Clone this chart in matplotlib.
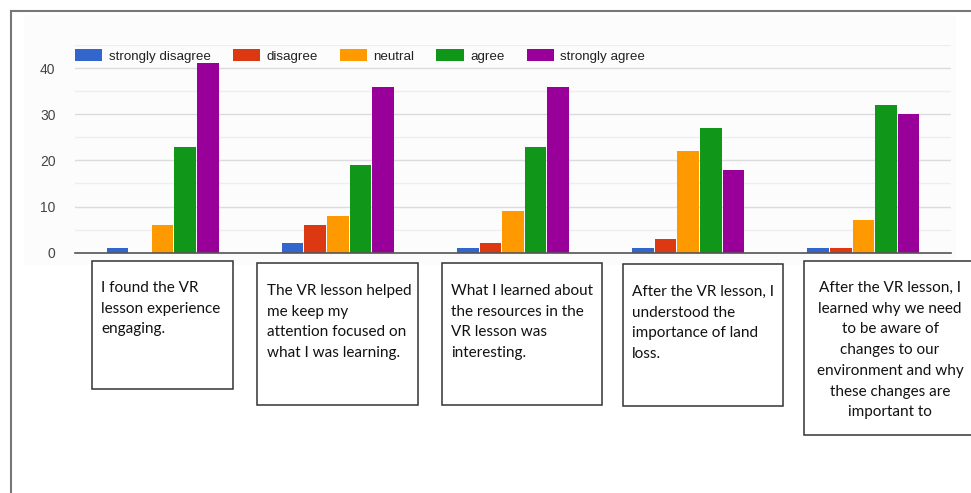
import matplotlib
matplotlib.use("Agg")
from matplotlib import pyplot as plt
from matplotlib.patches import Rectangle, Patch
from matplotlib.lines import Line2D
import numpy as np

# survey answers, one list per response level
levels = ["strongly disagree", "disagree", "neutral", "agree", "strongly agree"]
colors = ["#3366cc", "#dc3912", "#ff9900", "#109618", "#990099"]

strongly_disagree = [1, 2, 1, 1, 1]
disagree = [0, 6, 2, 3, 1]
neutral = [6, 8, 9, 22, 7]
agree = [23, 19, 23, 27, 32]
strongly_agree = [41, 36, 36, 18, 30]

questions = [
    "I found the VR\nlesson experience\nengaging.",
    "The VR lesson helped\nme keep my\nattention focused on\nwhat I was learning.",
    "What I learned about\nthe resources in the\nVR lesson was\ninteresting.",
    "After the VR lesson, I\nunderstood the\nimportance of land\nloss.",
    "After the VR lesson, I\nlearned why we need\nto be aware of\nchanges to our\nenvironment and why\nthese changes are\nimportant to",
]

W, H = 971, 493
fig = plt.figure(figsize=(W / 100, H / 100), dpi=100)

def px(x, y):
    # pixel position (from top left) -> figure fraction
    return x / W, 1 - y / H

# faint chart background
fig.patches.append(Rectangle(px(24, 265), (956 - 24) / W, (265 - 15) / H,
                             transform=fig.transFigure, facecolor="#fcfcfc",
                             edgecolor="none", zorder=-1))

left, top = px(75, 45)
right, bottom = px(951, 252.7)
ax = fig.add_axes([left, bottom, right - left, top - bottom])
ax.set_facecolor("none")

series = [strongly_disagree, disagree, neutral, agree, strongly_agree]
x = np.arange(len(questions))
step = 0.129
for i, vals in enumerate(series):
    ax.bar(x + (i - 2) * step, vals, width=0.123, color=colors[i], zorder=3)

ax.set_xlim(-0.5, 4.5)
ax.set_ylim(0, 45)
ax.set_yticks([0, 10, 20, 30, 40])
ax.set_yticks([5, 15, 25, 35, 45], minor=True)
ax.set_xticks([])
ax.grid(axis="y", which="major", color="#dcdcdc", lw=1.0, zorder=0)
ax.grid(axis="y", which="minor", color="#eeeeee", lw=1.0, zorder=0)
ax.tick_params(axis="y", which="both", length=0, pad=14, labelsize=10,
               labelcolor="#444444")
for lab in ax.get_yticklabels():
    lab.set_fontfamily("Liberation Sans")
for s in ["top", "right", "left"]:
    ax.spines[s].set_visible(False)
ax.spines["bottom"].set_color("#555555")
ax.spines["bottom"].set_linewidth(1.2)
ax.spines["bottom"].set_zorder(4)

handles = [Patch(facecolor=c, edgecolor="none") for c in colors]
leg = ax.legend(handles, levels, ncol=5, loc="center left",
                bbox_to_anchor=(0, 0.947), frameon=False, borderpad=0,
                borderaxespad=0, handlelength=2.05, handleheight=0.95,
                handletextpad=0.48, columnspacing=1.65,
                prop={"family": "Liberation Sans", "size": 9.6})
for t in leg.get_texts():
    t.set_color("#222222")

# question boxes under the groups
boxes = [(92, 261, 233, 389), (257, 263, 418, 405), (442, 263, 602, 405),
         (623, 264, 783, 406), (804, 261, 975, 435)]
text_pos = [(101, 281, "left"), (267, 284, "left"), (451, 284, "left"),
            (632, 285, "left"), (890, 281, "center")]
for (x0, y0, x1, y1), (tx, ty, ha), q in zip(boxes, text_pos, questions):
    fig.patches.append(Rectangle(px(x0, y1), (x1 - x0) / W, (y1 - y0) / H,
                                 transform=fig.transFigure, facecolor="white",
                                 edgecolor="#333333", lw=1.1, zorder=2))
    fig.text(*px(tx, ty), q, ha=ha, va="top", fontsize=11, family="Lato",
             color="#111111", linespacing=1.61, multialignment=ha, zorder=3)

# outer frame of the screenshot
fig.add_artist(Line2D([11 / W, 1], [1 - 11 / H, 1 - 11 / H], color="#777777",
                      lw=1.5, transform=fig.transFigure))
fig.add_artist(Line2D([11 / W, 11 / W], [0, 1 - 11 / H], color="#777777",
                      lw=1.5, transform=fig.transFigure))

fig.savefig("out.png", dpi=100)
